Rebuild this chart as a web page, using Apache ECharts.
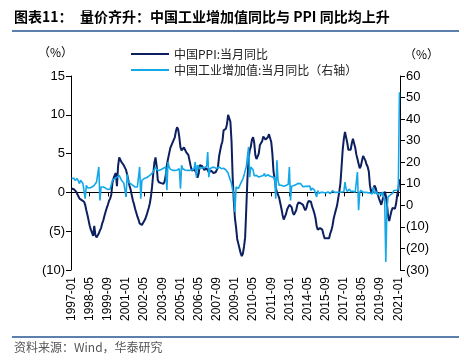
<!DOCTYPE html>
<html>
<head>
<meta charset="utf-8">
<script src="https://cdn.jsdelivr.net/npm/echarts@6/dist/echarts.min.js"></script>
<style>
html,body{margin:0;padding:0;background:#fff;}
#c{width:464px;height:363px;}
</style>
</head>
<body>
<div id="c"></div>
<script>
// Monthly categories 1997-01 .. 2021-02
var startYear = 1997, endYear = 2021, endMonth = 2;
var categories = [];
for (var y = startYear; y <= endYear; y++) {
  for (var m = 1; m <= 12; m++) {
    if (y === endYear && m > endMonth) break;
    categories.push(y + '-' + (m < 10 ? '0' + m : m));
  }
}

// 中国PPI:当月同比 (left axis, %)
var ppi = [
  0.5, 0.6, 0.4, 0.3, 0.1, -0.2, -0.5, -0.8, -0.9, -1.0, -1.0, -1.2,
  -1.6, -2.3, -2.9, -3.6, -4.3, -4.8, -5.2, -5.6, -4.3, -5.5, -5.8, -5.6,
  -5.3, -4.9, -4.6, -4.0, -3.6, -3.0, -2.5, -2.0, -1.6, -1.1, -0.8, -0.3,
  1.2, 1.8, 2.2, 2.5, 0.8, 3.4, 4.5, 4.2, 3.9, 3.7, 3.5, 3.2,
  2.9, 2.3, 1.6, 0.9, 0.4, -0.3, -1.0, -1.5, -2.1, -2.6, -3.1, -3.5,
  -4.0, -4.2, -4.2, -4.0, -3.7, -3.4, -3.0, -2.5, -2.0, -1.4, -0.5, 0.8,
  2.4, 3.8, 4.5, 3.4, 1.6, 1.3, 1.3, 1.2, 1.2, 1.1, 1.4, 2.2,
  3.5, 4.3, 5.0, 5.7, 5.8, 6.4, 6.4, 7.1, 7.9, 8.4, 8.1, 7.1,
  5.8, 5.4, 5.6, 5.8, 5.9, 5.2, 5.2, 4.8, 4.1, 3.4, 2.8, 3.0,
  3.0, 3.0, 2.5, 1.9, 2.4, 3.5, 3.6, 3.4, 3.5, 2.9, 2.8, 3.1,
  3.3, 2.6, 2.7, 2.8, 2.8, 2.5, 2.4, 2.6, 2.7, 3.2, 4.6, 5.4,
  6.1, 6.6, 8.0, 8.1, 8.2, 8.8, 10.0, 10.1, 9.1, 6.6, 2.0, -1.1,
  -3.3, -4.5, -6.0, -6.6, -7.2, -7.8, -8.2, -7.9, -7.0, -5.8, -2.1, 1.7,
  4.3, 5.4, 5.9, 6.8, 7.1, 6.4, 4.8, 4.3, 4.3, 5.0, 6.1, 5.9,
  6.6, 7.2, 7.3, 6.8, 6.8, 7.1, 7.5, 7.3, 6.5, 5.0, 2.7, 1.7,
  0.7, 0.0, -0.3, -0.7, -1.4, -2.1, -2.9, -3.5, -3.6, -2.8, -2.2, -1.9,
  -1.6, -1.6, -1.9, -2.6, -2.9, -2.7, -2.3, -1.6, -1.3, -1.5, -1.4, -1.4,
  -1.6, -2.0, -2.3, -2.0, -1.4, -1.1, -0.9, -1.2, -1.8, -2.2, -2.7, -3.3,
  -4.3, -4.8, -4.6, -4.6, -4.6, -4.8, -5.4, -5.9, -5.9, -5.9, -5.9, -5.9,
  -5.3, -4.9, -4.3, -3.4, -2.8, -2.6, -1.7, -0.8, 0.1, 1.2, 3.3, 5.5,
  6.9, 7.8, 7.6, 6.4, 5.5, 5.5, 5.5, 6.3, 6.9, 6.9, 5.8, 4.9,
  4.3, 3.7, 3.1, 3.4, 4.1, 4.7, 4.6, 4.1, 3.6, 3.3, 2.7, 0.9,
  0.1, 0.1, 0.4, 0.9, 0.6, 0.0, -0.3, -0.8, -1.2, -1.6, -1.4, -0.5,
  0.1, -0.4, -1.5, -3.1, -3.7, -3.0, -2.4, -2.0, -2.1, -2.1, -1.5, -0.4,
  0.3, 1.7
];

// 中国工业增加值:当月同比 (right axis, %)
var ip = [
  12.5, 13.4, 12.6, 11.6, 11.4, 12.4, 11.5, 10.1, 11.6, 11.0, 10.1, 10.5,
  3.1, 9.3, 8.2, 7.7, 8.0, 8.3, 8.5, 8.7, 9.3, 9.9, 10.8, 11.6,
  17.8, 2.3, 8.5, 8.6, 8.5, 8.3, 8.0, 7.7, 7.3, 7.0, 7.6, 8.5,
  11.6, 12.0, 12.4, 12.8, 13.1, 13.5, 13.9, 13.0, 11.6, 11.0, 10.4, 10.1,
  3.9, 14.4, 10.8, 10.5, 10.1, 9.8, 9.3, 8.8, 8.5, 8.5, 8.5, 8.7,
  17.8, 3.1, 11.6, 12.0, 12.4, 12.6, 12.8, 13.1, 13.5, 14.0, 14.4, 14.9,
  15.5, 16.2, 17.8, 16.5, 16.2, 16.2, 16.2, 16.6, 17.0, 17.2, 17.5, 17.8,
  7.0, 20.1, 17.8, 16.8, 16.2, 16.2, 16.2, 16.2, 16.2, 16.4, 16.8, 17.0,
  7.7, 18.6, 17.0, 16.6, 16.4, 16.2, 16.2, 16.0, 16.2, 16.2, 16.4, 16.6,
  17.0, 20.1, 13.1, 18.6, 17.8, 17.0, 17.2, 17.5, 17.8, 17.5, 17.8, 18.0,
  24.7, 13.1, 17.0, 17.4, 17.6, 17.8, 17.6, 17.4, 17.0, 17.6, 17.8, 17.4,
  17.0, 16.8, 17.2, 16.6, 16.4, 16.2, 15.0, 13.1, 11.6, 10.1, 7.0, 5.5,
  -3.1, 8.5, 8.0, 7.7, 8.9, 10.1, 11.0, 12.3, 13.9, 16.1, 17.8, 18.5,
  27.0, 13.1, 17.8, 17.8, 16.5, 13.7, 13.4, 13.9, 13.3, 13.1, 13.3, 13.5,
  13.5, 13.8, 14.8, 13.4, 13.3, 14.2, 14.0, 13.5, 13.8, 13.2, 12.4, 12.8,
  3.1, 20.9, 11.6, 9.3, 9.4, 9.3, 9.0, 8.8, 8.9, 9.2, 9.5, 9.8,
  17.8, 2.3, 8.9, 9.3, 9.2, 8.9, 9.7, 10.4, 10.2, 10.3, 10.0, 9.7,
  8.6, 8.6, 8.8, 8.7, 8.8, 9.2, 9.0, 6.9, 8.0, 7.7, 7.2, 7.9,
  3.9, 6.8, 5.6, 5.9, 6.1, 6.8, 6.0, 6.1, 5.7, 5.6, 6.2, 5.9,
  5.4, 5.4, 6.8, 6.0, 6.0, 6.2, 6.0, 6.3, 6.1, 6.1, 6.2, 6.0,
  6.3, 10.8, 7.6, 6.5, 6.5, 7.6, 6.4, 6.0, 6.6, 6.2, 6.1, 6.2,
  15.5, -2.3, 6.0, 7.0, 6.8, 6.0, 6.0, 6.1, 5.8, 5.9, 5.4, 5.7,
  5.3, 5.3, 8.5, 5.4, 5.0, 6.3, 4.8, 4.4, 5.8, 4.7, 6.2, 6.9,
  2.3, -26.3, -1.1, 3.9, 4.4, 4.8, 4.8, 5.6, 6.9, 6.9, 7.0, 7.3,
  7.3, 52.5
];

var leftTicks = { min: -10, max: 15, interval: 5 };
var rightTicks = { min: -30, max: 60, interval: 10 };
var seriesNames = ['中国PPI:当月同比', '中国工业增加值:当月同比（右轴）'];
var titleLabel = '图表11：';
var titleText = '量价齐升：中国工业增加值同比与 PPI 同比均上升';
var sourceText = '资料来源：Wind，华泰研究';

var DARK = '#0c1f5f';
var LIGHT = '#15a8e8';
var FONT = '"Liberation Sans", Arial, sans-serif';
var CJK = '"Noto Sans CJK SC", "Liberation Sans", sans-serif';

function paren(v) { return v < 0 ? '(' + (-v) + ')' : String(v); }

var chart = echarts.init(document.getElementById('c'), null, { renderer: 'canvas' });
chart.setOption({
  animation: false,
  backgroundColor: '#fff',
  textStyle: { fontFamily: FONT },
  grid: { left: 71, right: 64, top: 76, bottom: 93, containLabel: false },
  legend: {
    orient: 'vertical',
    left: 126,
    top: 43,
    itemWidth: 38,
    itemHeight: 12,
    itemGap: 4,
    icon: 'path://M0,5 L38,5 L38,7 L0,7 Z',
    textStyle: { fontFamily: CJK, fontSize: 12, color: '#222' },
    data: seriesNames
  },
  xAxis: [
    {
      type: 'category',
      data: categories,
      boundaryGap: true,
      axisLine: { onZero: true, lineStyle: { color: '#000', width: 1 } },
      axisTick: { show: true, alignWithLabel: true, interval: 15, length: 4, lineStyle: { color: '#000' } },
      axisLabel: { show: false, interval: 15 },
      splitLine: { show: false }
    },
    {
      type: 'category',
      data: categories,
      boundaryGap: true,
      position: 'bottom',
      axisLine: { show: false, onZero: false },
      axisTick: { show: false },
      axisLabel: {
        show: true, interval: 15, rotate: 90, margin: 7,
        fontFamily: FONT, fontSize: 12, color: '#000'
      },
      splitLine: { show: false }
    }
  ],
  yAxis: [
    {
      type: 'value',
      min: leftTicks.min, max: leftTicks.max, interval: leftTicks.interval,
      axisLine: { show: true, lineStyle: { color: '#000' } },
      axisTick: { show: true, length: 5, lineStyle: { color: '#000' } },
      axisLabel: { formatter: paren, fontFamily: FONT, fontSize: 13, color: '#000', margin: 6 },
      splitLine: { show: false }
    },
    {
      type: 'value',
      min: rightTicks.min, max: rightTicks.max, interval: rightTicks.interval,
      position: 'right',
      axisLine: { show: true, lineStyle: { color: '#000' } },
      axisTick: { show: true, length: 5, lineStyle: { color: '#000' } },
      axisLabel: { formatter: paren, fontFamily: FONT, fontSize: 13, color: '#000', margin: 6 },
      splitLine: { show: false }
    }
  ],
  series: [
    {
      name: seriesNames[0], type: 'line', xAxisIndex: 0, yAxisIndex: 0,
      data: ppi, symbol: 'none', smooth: false,
      lineStyle: { color: DARK, width: 2 }, itemStyle: { color: DARK }
    },
    {
      name: seriesNames[1], type: 'line', xAxisIndex: 0, yAxisIndex: 1,
      data: ip, symbol: 'none', smooth: false,
      lineStyle: { color: LIGHT, width: 1.6 }, itemStyle: { color: LIGHT }
    }
  ],
  graphic: [
    { type: 'text', left: 14, top: 10, style: { text: titleLabel, font: 'bold 14px ' + CJK, fill: '#000' } },
    { type: 'text', left: 80, top: 10, style: { text: titleText, font: 'bold 14px ' + CJK, fill: '#000' } },
    { type: 'rect', shape: { x: 12, y: 30, width: 447, height: 2 }, style: { fill: '#5d7fad' } },
    { type: 'text', left: 38, top: 46, style: { text: '（%）', font: '12px ' + CJK, fill: '#000' } },
    { type: 'text', left: 404, top: 48, style: { text: '（%）', font: '12px ' + CJK, fill: '#000' } },
    { type: 'rect', shape: { x: 12, y: 336, width: 447, height: 2 }, style: { fill: '#5d7fad' } },
    { type: 'text', left: 14, top: 341, style: { text: sourceText, font: '12px ' + CJK, fill: '#555' } }
  ]
});
</script>
</body>
</html>
